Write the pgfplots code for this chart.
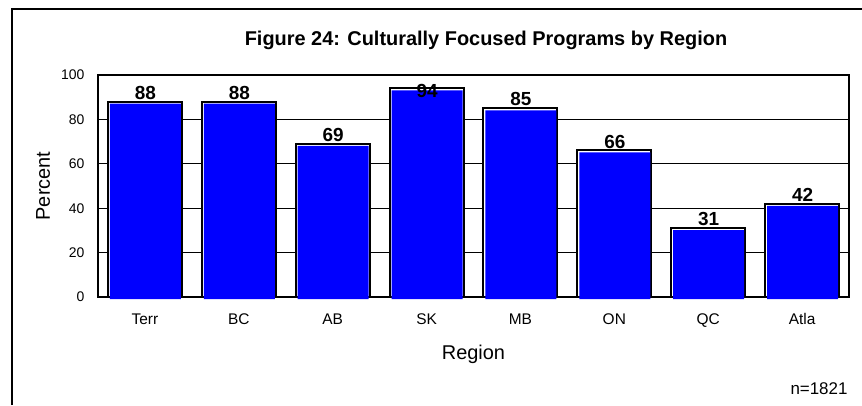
\documentclass[border=0pt]{standalone}
\usepackage{pgfplots}
\pgfplotsset{compat=1.18}
\usepackage{fontspec}
\setmainfont{Liberation Sans}
\definecolor{barblue}{RGB}{0,0,255}
\pgfplotstableread{
x y
0 88
1 88
2 69
3 94
4 85
5 66
6 31
7 42
}\datatab
\begin{document}
\begin{tikzpicture}[x=1bp,y=1bp]
\useasboundingbox (0,0) rectangle (862,405);
\draw[line width=2bp] (12,0) -- (12,396) -- (862,396);
\node[font=\bfseries\fontsize{20}{22}\selectfont] at (486,365) {Figure 24: Culturally Focused Programs by Region};
\node[anchor=east,font=\fontsize{17}{19}\selectfont] at (851,16) {n=1821};
\begin{axis}[
  at={(98bp,108bp)}, anchor=south west, scale only axis,
  width=751bp, height=222bp,
  ymin=0, ymax=100, ytick={0,20,...,100},
  xmin=-0.5, xmax=7.5, xtick=data,
  xticklabels={Terr,BC,AB,SK,MB,ON,QC,Atla},
  ybar, bar shift=0pt,
  ymajorgrids, grid style={black, line width=1.3bp},
  axis line style={line width=2bp},
  major tick length=0pt,
  /pgf/number format/assume math mode=true,
  yticklabel style={font=\fontsize{14}{16}\selectfont, xshift=-10bp},
  xticklabel style={font=\fontsize{15.5}{17}\selectfont, yshift=-13bp},
  ylabel={Percent}, xlabel={Region},
  every axis y label/.style={at={(axis description cs:0,0.5)}, xshift=-55bp, rotate=90, anchor=center, font=\fontsize{20}{22}\selectfont},
  every axis x label/.style={at={(axis description cs:0.5,0)}, yshift=-57bp, anchor=center, font=\fontsize{20}{22}\selectfont},
  clip=false,
]
\addplot[fill=white, draw=black, line width=2bp, bar width=74bp] table[x=x,y=y] {\datatab};
\addplot[fill=barblue, draw=none, bar width=71bp, bar shift=0.5bp, yshift=-2bp,
  visualization depends on={y \as \rawy},
  nodes near coords,
  every node near coord/.append style={text=black, font=\bfseries\fontsize{19}{21}\selectfont, anchor=south, inner sep=1bp, yshift={\rawy>90 ? -9 : 3}}]
  table[x=x,y=y] {\datatab};
\end{axis}
\end{tikzpicture}
\end{document}
